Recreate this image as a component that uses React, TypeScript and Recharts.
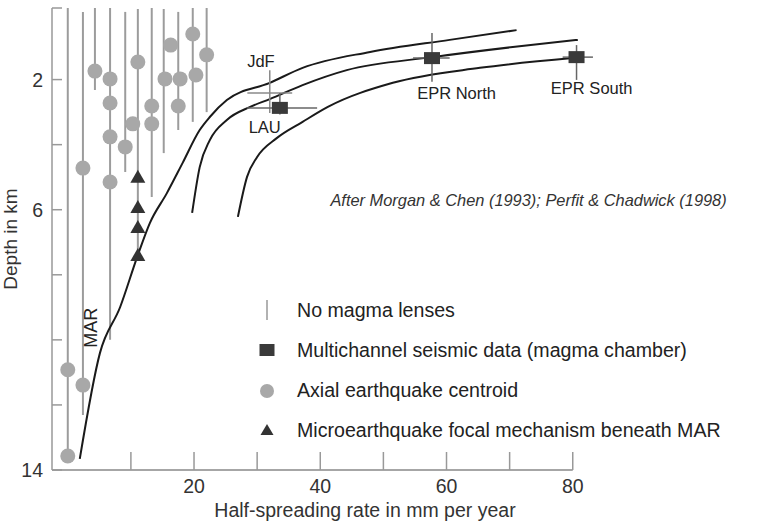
import {
  ComposedChart,
  Line,
  Scatter,
  XAxis,
  YAxis,
  ErrorBar,
  ReferenceLine,
  ReferenceDot,
  Legend,
} from 'recharts';

// Half-spreading rate (mm/yr) vs depth to magma lens (km)
const curveAX = [1.9, 5.1, 8.3, 11.0, 13.0, 15.7, 18.2, 20.9, 22.5, 25.2, 32.0, 37.2, 47.9, 60.5, 71.1];
const curveADepth = [13.66, 10.4, 8.99, 7.45, 6.41, 5.49, 4.56, 3.55, 3.15, 2.63, 2.1, 1.64, 1.15, 0.78, 0.48];

const curveBX = [19.7, 20.9, 22.5, 25.2, 28.9, 32.0, 37.2, 44.2, 57.8, 70.5, 80.8];
const curveBDepth = [6.1, 4.69, 3.86, 3.24, 2.84, 2.6, 2.17, 1.71, 1.31, 1.0, 0.78];

const curveCX = [26.95, 28.4, 30.0, 33.1, 37.2, 41.2, 51.5, 65.3, 80.0];
const curveCDepth = [6.22, 4.99, 4.38, 3.8, 3.3, 2.84, 2.1, 1.64, 1.34];

// no magma lens: vertical bars
const lensX = [0, 2.4, 4.3, 6.7, 9.1, 11.1, 13.3, 15.2, 17.5, 19.8, 22.0];
const lensTop = [-0.2, -0.08, -0.2, -0.2, -0.08, -0.17, -0.2, -0.17, -0.08, -0.2, -0.2];
const lensBottom = [13.78, 12.31, 2.32, 10.0, 4.84, 7.39, 5.61, 4.26, 3.55, 3.3, 3.0];

// axial earthquake centroids
const quakeX = [4.3, 6.7, 6.7, 6.7, 6.7, 9.1, 10.3, 11.1, 13.3, 13.3, 15.4, 16.3, 17.8, 17.5, 19.8, 20.3, 22.0, 2.4, 0, 2.4, 0];
const quakeDepth = [1.74, 1.98, 2.72, 3.76, 5.15, 4.07, 3.36, 1.46, 2.81, 3.36, 1.98, 0.94, 1.98, 2.81, 0.6, 1.86, 1.24, 4.72, 10.92, 11.39, 13.57];

// microearthquake focal mechanisms (MAR)
const microX = [11.1, 11.1, 11.1, 11.1];
const microDepth = [4.99, 5.92, 6.53, 7.39];

// multichannel seismic (LAU, EPR North, EPR South)
const seismicX = [33.6, 57.7, 80.6];
const seismicDepth = [2.87, 1.34, 1.31];
const seismicErrX = [[5.2, 5.9], [3.0, 2.8], [2.2, 2.6]];
const seismicErrY = [[0.46, 0.2], [0.77, 0.73], [0.37, 0.7]];

// JdF cross
const jdfX = [32.0];
const jdfDepth = [2.41];
const jdfErrX = [[3.55, 3.55]];
const jdfErrY = [[0.7, 0.62]];

const siteNames = ['JdF', 'LAU', 'EPR North', 'EPR South'];
const siteX = [30.6, 31.2, 61.6, 83.0];
const siteDepth = [1.43, 3.46, 2.41, 2.26];

const xTicks = [10, 20, 30, 40, 50, 60, 70, 80];
const xTickLabels = [20, 40, 60, 80];
const yTicks = [-0.2, 2, 4, 6, 8, 10, 12, 14];
const yTickLabels = [2, 6, 14];

const legendLabels = [
  'No magma lenses',
  'Multichannel seismic data (magma chamber)',
  'Axial earthquake centroid',
  'Microearthquake focal mechanism beneath MAR',
];

const FONT = '"Liberation Sans", Arial, sans-serif';

const pts = (xs: number[], ys: number[]) => xs.map((x, i) => ({ x, y: ys[i] }));

const quakes = pts(quakeX, quakeDepth);
const micro = pts(microX, microDepth);
const seismic = seismicX.map((x, i) => ({ x, y: seismicDepth[i], ex: seismicErrX[i], ey: seismicErrY[i] }));
const jdf = jdfX.map((x, i) => ({ x, y: jdfDepth[i], ex: jdfErrX[i], ey: jdfErrY[i] }));

function XTick({ x, y, payload }: any) {
  if (!xTickLabels.includes(payload.value)) return <g />;
  return (
    <text x={x} y={y} dy="0.71em" textAnchor="middle" fontSize={19.5} fill="#333" fontFamily={FONT}>
      {payload.value}
    </text>
  );
}

function YTick({ x, y, payload }: any) {
  if (!yTickLabels.includes(payload.value)) return <g />;
  return (
    <text x={x} y={y} dy="0.36em" textAnchor="end" fontSize={19.5} fill="#333" fontFamily={FONT}>
      {payload.value}
    </text>
  );
}

const Circle = (p: any) => <circle cx={p.cx} cy={p.cy} r={7.5} fill="#a8a8a8" />;
const Triangle = (p: any) => (
  <polygon points={`${p.cx - 7.5},${p.cy + 6} ${p.cx + 7.5},${p.cy + 6} ${p.cx},${p.cy - 7}`} fill="#333" />
);
const Square = (p: any) => <rect x={p.cx - 8} y={p.cy - 6} width={16} height={12} fill="#3a3a3a" />;
const Nothing = () => <g />;

function LegendBox() {
  const symbols = [
    <line key="l" x1={15} y1={2} x2={15} y2={22} stroke="#999" strokeWidth={1.5} />,
    <rect key="s" x={7.5} y={6} width={15} height={12} fill="#3a3a3a" />,
    <circle key="c" cx={15} cy={13} r={7} fill="#a8a8a8" />,
    <polygon key="t" points="8.5,17 21.5,17 15,6" fill="#333" />,
  ];
  return (
    <div style={{ fontFamily: FONT, fontSize: 19.6, color: '#222' }}>
      {legendLabels.map((label, i) => (
        <div key={label} style={{ display: 'flex', alignItems: 'center', height: 40 }}>
          <svg width={30} height={24} style={{ display: 'block' }}>
            {symbols[i]}
          </svg>
          <span style={{ paddingLeft: 15, whiteSpace: 'nowrap' }}>{label}</span>
        </div>
      ))}
    </div>
  );
}

export default function App() {
  return (
    <div style={{ position: 'absolute', left: 0, top: 0, fontFamily: FONT, background: '#fff' }}>
      <ComposedChart
        width={768}
        height={525}
        margin={{ top: 8, right: 170, bottom: 0, left: 0 }}
        style={{ fontFamily: FONT }}
      >
        <XAxis
          type="number"
          dataKey="x"
          domain={[-2.5, 84]}
          allowDataOverflow
          ticks={xTicks}
          interval={0}
          axisLine={false}
          tickLine={{ stroke: '#999', strokeWidth: 1.5 }}
          tickSize={-18}
          tickMargin={27}
          tick={<XTick />}
          height={55}
          label={{
            value: 'Half-spreading rate in mm per year',
            position: 'insideBottom',
            offset: 8,
            dx: 40,
            fontSize: 19.5,
            fill: '#333',
          }}
        />
        <YAxis
          type="number"
          dataKey="y"
          reversed
          domain={[-0.2, 14]}
          allowDataOverflow
          ticks={yTicks}
          interval={0}
          width={52}
          axisLine={{ stroke: '#999', strokeWidth: 1.5 }}
          tickLine={{ stroke: '#999', strokeWidth: 1.5 }}
          tickSize={-10}
          tickMargin={19}
          tick={<YTick />}
          label={{
            value: 'Depth in km',
            angle: -90,
            position: 'insideLeft',
            offset: 16,
            dx: -6,
            fontSize: 19,
            fill: '#333',
            style: { textAnchor: 'middle' },
          }}
        />

        <ReferenceLine
          segment={[{ x: -2.5, y: 14 }, { x: 80, y: 14 }]}
          stroke="#888"
          strokeWidth={1.5}
          ifOverflow="visible"
        />
        {lensX.map((x, i) => (
          <ReferenceLine
            key={`lens-${i}`}
            segment={[{ x, y: lensTop[i] }, { x, y: lensBottom[i] }]}
            stroke="#9c9c9c"
            strokeWidth={2}
            ifOverflow="visible"
          />
        ))}

        <Line data={pts(curveAX, curveADepth)} dataKey="y" type="monotone" stroke="#1a1a1a" strokeWidth={2} dot={false} isAnimationActive={false} />
        <Line data={pts(curveBX, curveBDepth)} dataKey="y" type="monotone" stroke="#1a1a1a" strokeWidth={2} dot={false} isAnimationActive={false} />
        <Line data={pts(curveCX, curveCDepth)} dataKey="y" type="monotone" stroke="#1a1a1a" strokeWidth={2} dot={false} isAnimationActive={false} />

        <Scatter data={quakes} shape={Circle} isAnimationActive={false} />
        <Scatter data={micro} shape={Triangle} isAnimationActive={false} />
        <Scatter data={jdf} shape={Nothing} isAnimationActive={false}>
          <ErrorBar dataKey="ex" direction="x" width={0} stroke="#8a8a8a" strokeWidth={1.5} isAnimationActive={false} />
          <ErrorBar dataKey="ey" direction="y" width={0} stroke="#8a8a8a" strokeWidth={1.5} isAnimationActive={false} />
        </Scatter>
        <Scatter data={seismic} shape={Square} isAnimationActive={false}>
          <ErrorBar dataKey="ex" direction="x" width={0} stroke="#666" strokeWidth={1.5} isAnimationActive={false} />
          <ErrorBar dataKey="ey" direction="y" width={0} stroke="#666" strokeWidth={1.5} isAnimationActive={false} />
        </Scatter>

        {siteNames.map((name, i) => (
          <ReferenceDot
            key={name}
            x={siteX[i]}
            y={siteDepth[i]}
            r={0}
            fill="none"
            stroke="none"
            ifOverflow="visible"
            label={{ value: name, position: 'center', fontSize: 16.5, fill: '#222' }}
          />
        ))}
        <ReferenceDot
          x={3.68}
          y={9.63}
          r={0}
          fill="none"
          stroke="none"
          label={{ value: 'MAR', position: 'center', angle: -90, fontSize: 18, fill: '#222' }}
        />
        <ReferenceDot
          x={73.0}
          y={5.7}
          r={0}
          fill="none"
          stroke="none"
          ifOverflow="visible"
          label={{
            value: 'After Morgan & Chen (1993); Perfit & Chadwick (1998)',
            position: 'center',
            fontSize: 16.4,
            fontStyle: 'italic',
            fill: '#333',
          }}
        />

        <Legend
          layout="vertical"
          align="center"
          verticalAlign="middle"
          content={<LegendBox />}
          wrapperStyle={{ left: 252, top: 290, width: 510, height: 160 }}
        />
      </ComposedChart>
    </div>
  );
}
